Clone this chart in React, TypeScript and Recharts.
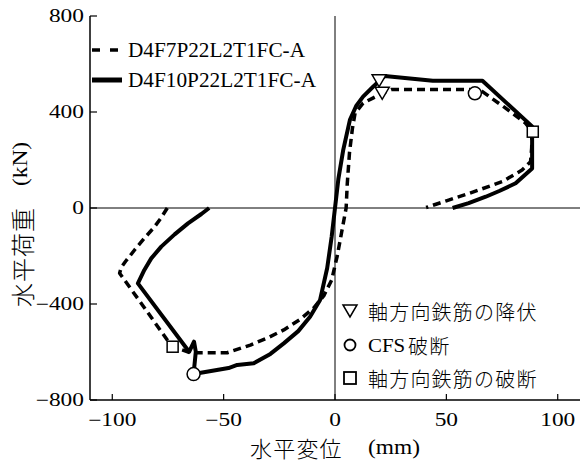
import React from 'react';
import { ComposedChart, Line, Scatter, XAxis, YAxis, ReferenceLine } from 'recharts';

type P = { x: number; y: number };

const xTicks = [-100, -50, 0, 50, 100];
const yTicks = [-800, -400, 0, 400, 800];
const xLabel = '水平変位';
const xUnit = '(mm)';
const yLabel = '水平荷重';
const yUnit = '(kN)';
const seriesNames = ['D4F7P22L2T1FC-A', 'D4F10P22L2T1FC-A'];
const markerNames = ['軸方向鉄筋の降伏', 'CFS', '破断', '軸方向鉄筋の破断'];

// D4F10P22L2T1FC-A (solid) – negative loop, drawn in order
const solidNeg: P[] = [
  { x: -56.5, y: 0 }, { x: -60, y: -25 }, { x: -66, y: -64 }, { x: -72, y: -110 },
  { x: -78, y: -161 }, { x: -82.5, y: -210 }, { x: -85.6, y: -258 }, { x: -88.5, y: -314 },
  { x: -65.5, y: -599 }, { x: -63.3, y: -557 }, { x: -62.5, y: -599 }, { x: -63.5, y: -692 },
  { x: -47.8, y: -667 }, { x: -43.9, y: -654 }, { x: -36.5, y: -647 }, { x: -29, y: -608 },
  { x: -23, y: -564 }, { x: -16.5, y: -513 }, { x: -11.2, y: -453 }, { x: -6.7, y: -383 },
  { x: -3.5, y: -250 }, { x: -1.5, y: -120 }, { x: 0, y: 0 },
];
// D4F10P22L2T1FC-A (solid) – positive loop
const solidPos: P[] = [
  { x: 1.5, y: 120 }, { x: 3.7, y: 242 }, { x: 6.7, y: 367 }, { x: 9.5, y: 425 },
  { x: 12.6, y: 464 }, { x: 17.1, y: 505 }, { x: 20, y: 530 }, { x: 22.3, y: 550 },
  { x: 43.9, y: 530 }, { x: 66.2, y: 530 }, { x: 88.5, y: 340 }, { x: 88.5, y: 165 },
  { x: 81.1, y: 103 }, { x: 74, y: 72 }, { x: 67.7, y: 47 }, { x: 60, y: 20 }, { x: 52.8, y: 0 },
];
// D4F7P22L2T1FC-A (dashed) – negative loop
const dashedNeg: P[] = [
  { x: -75.3, y: 0 }, { x: -78, y: -40 }, { x: -81, y: -78 }, { x: -85.5, y: -125 },
  { x: -90, y: -175 }, { x: -94, y: -222 }, { x: -96, y: -248 }, { x: -96.7, y: -272 },
  { x: -86, y: -410 }, { x: -75.3, y: -550 }, { x: -72.9, y: -578 }, { x: -65, y: -603 },
  { x: -48.4, y: -603 }, { x: -38, y: -571 }, { x: -30, y: -540 }, { x: -23, y: -508 },
  { x: -16, y: -466 }, { x: -9.7, y: -418 }, { x: -5, y: -365 }, { x: -1.5, y: -300 },
  { x: 1, y: -200 }, { x: 3, y: -100 }, { x: 5, y: 0 },
];
// D4F7P22L2T1FC-A (dashed) – positive loop
const dashedPos: P[] = [
  { x: 5.5, y: 100 }, { x: 6.5, y: 230 }, { x: 7.8, y: 330 }, { x: 9, y: 395 },
  { x: 12.6, y: 437 }, { x: 17, y: 458 }, { x: 21.2, y: 478 }, { x: 25.3, y: 494 },
  { x: 40, y: 494 }, { x: 60.3, y: 494 }, { x: 66.2, y: 485 }, { x: 76, y: 420 },
  { x: 85.6, y: 353 }, { x: 88.5, y: 320 }, { x: 88.3, y: 250 }, { x: 87.8, y: 193 },
  { x: 84, y: 158 }, { x: 75.1, y: 110 }, { x: 60.3, y: 61 }, { x: 50, y: 30 }, { x: 40.9, y: 2 },
];

const yieldPts: P[] = [{ x: 19.8, y: 530 }, { x: 21.2, y: 478 }];
const cfsPts: P[] = [{ x: 62.8, y: 478 }, { x: -63.5, y: -692 }];
const rupturePts: P[] = [{ x: 88.8, y: 318 }, { x: -72.9, y: -578 }];

const solidData = [...solidNeg, ...solidPos];
const dashedData = [...dashedNeg, ...dashedPos];

const SERIF = "'Liberation Serif', 'Times New Roman', serif";
const CJK = "'Noto Sans CJK JP', sans-serif";

const fmt = (v: number) => (v < 0 ? '\u2212' + Math.abs(v) : String(v));

const ST = ({ x, y, sx = 1.3, anchor = 'middle', size = 18, family = SERIF, children }: any) => (
  <g transform={`translate(${x},${y}) scale(${sx},1)`}>
    <text x={0} y={0} textAnchor={anchor} dominantBaseline="central" fontSize={size} fontFamily={family} fill="#000">
      {children}
    </text>
  </g>
);

const LeftTick = (props: any) => {
  const { x, y, payload } = props;
  return (
    <g>
      <line x1={x} y1={y} x2={x + 7} y2={y} stroke="#000" strokeWidth={1.2} />
      <ST x={x - 6} y={y} anchor="end">{fmt(payload.value)}</ST>
    </g>
  );
};
const RightTick = (props: any) => {
  const { x, y } = props;
  return <line x1={x} y1={y} x2={x - 7} y2={y} stroke="#000" strokeWidth={1.2} />;
};
const BottomTick = (props: any) => {
  const { x, y, payload } = props;
  return (
    <g>
      <line x1={x} y1={y} x2={x} y2={y - 6} stroke="#000" strokeWidth={1.2} />
      <ST x={x} y={y + 20}>{fmt(payload.value)}</ST>
    </g>
  );
};
const TopTick = (props: any) => {
  const { x, y } = props;
  return <line x1={x} y1={y} x2={x} y2={y + 6} stroke="#000" strokeWidth={1.2} />;
};

const Tri = (props: any) => {
  const { cx, cy } = props;
  return (
    <polygon
      points={`${cx - 7},${cy - 6} ${cx + 7},${cy - 6} ${cx},${cy + 6}`}
      fill="#fff" stroke="#000" strokeWidth={1.5}
    />
  );
};
const Circ = (props: any) => {
  const { cx, cy } = props;
  return <circle cx={cx} cy={cy} r={6.5} fill="#fff" stroke="#000" strokeWidth={1.5} />;
};
const Sq = (props: any) => {
  const { cx, cy } = props;
  return <rect x={cx - 5.5} y={cy - 5.5} width={11} height={11} fill="#fff" stroke="#000" strokeWidth={1.5} />;
};

const cjkStyle = { fontFamily: CJK, fontWeight: 300 as const };

export default function App() {
  return (
    <div style={{ position: 'absolute', left: 0, top: 0, width: 580, height: 464, background: '#fff' }}>
      <ComposedChart width={580} height={464} margin={{ top: 16, right: 0, bottom: 0, left: 0 }}>
        <XAxis
          type="number" dataKey="x" domain={[-110, 110]} ticks={xTicks} interval={0}
          allowDataOverflow height={64} tickSize={0} tickMargin={0} tickLine={false}
          axisLine={{ stroke: '#000', strokeWidth: 1.5 }} tick={<BottomTick />}
        />
        <XAxis
          xAxisId="top" orientation="top" type="number" dataKey="x" domain={[-110, 110]} ticks={xTicks}
          interval={0} allowDataOverflow height={0} tickSize={0} tickMargin={0} tickLine={false}
          axisLine={{ stroke: '#000', strokeWidth: 1.5 }} tick={<TopTick />}
        />
        <YAxis
          type="number" domain={[-800, 800]} ticks={yTicks} interval={0} allowDataOverflow width={90}
          tickSize={0} tickMargin={0} tickLine={false}
          axisLine={{ stroke: '#000', strokeWidth: 1.5 }} tick={<LeftTick />}
        />
        <YAxis
          yAxisId="right" orientation="right" type="number" domain={[-800, 800]} ticks={yTicks}
          interval={0} allowDataOverflow width={0} tickSize={0} tickMargin={0} tickLine={false}
          axisLine={{ stroke: '#000', strokeWidth: 1.5 }} tick={<RightTick />}
        />
        <ReferenceLine y={0} stroke="#000" strokeWidth={1} />
        <ReferenceLine x={0} stroke="#000" strokeWidth={1} />
        <Line
          data={dashedData} dataKey="y" type="linear" stroke="#000" strokeWidth={3.5}
          strokeDasharray="8 5" dot={false} activeDot={false} isAnimationActive={false}
          strokeLinejoin="round" name={seriesNames[0]}
        />
        <Line
          data={solidData} dataKey="y" type="linear" stroke="#000" strokeWidth={4}
          dot={false} activeDot={false} isAnimationActive={false}
          strokeLinejoin="round" name={seriesNames[1]}
        />
        <Scatter data={yieldPts} dataKey="y" shape={<Tri />} isAnimationActive={false} />
        <Scatter data={cfsPts} dataKey="y" shape={<Circ />} isAnimationActive={false} />
        <Scatter data={rupturePts} dataKey="y" shape={<Sq />} isAnimationActive={false} />
      </ComposedChart>
      <svg width={580} height={464} style={{ position: 'absolute', left: 0, top: 0, pointerEvents: 'none' }}>
        {/* series legend */}
        <line x1={92} y1={50} x2={120} y2={50} stroke="#000" strokeWidth={3.5} strokeDasharray="8 10" />
        <text x={128} y={50} dominantBaseline="central" fontSize={21} fontFamily={SERIF} textLength={177} lengthAdjust="spacingAndGlyphs">{seriesNames[0]}</text>
        <line x1={92} y1={80} x2={122} y2={80} stroke="#000" strokeWidth={5} />
        <text x={128} y={80} dominantBaseline="central" fontSize={21} fontFamily={SERIF} textLength={188} lengthAdjust="spacingAndGlyphs">{seriesNames[1]}</text>
        {/* marker legend */}
        <Tri cx={350} cy={311} />
        <text x={368} y={311} dominantBaseline="central" fontSize={20} letterSpacing={1.2} {...cjkStyle}>{markerNames[0]}</text>
        <circle cx={350} cy={345} r={5.5} fill="#fff" stroke="#000" strokeWidth={1.8} />
        <ST x={368} y={345} anchor="start" size={19} sx={1.1}>{markerNames[1]}</ST>
        <text x={408} y={345} dominantBaseline="central" fontSize={20} letterSpacing={1.2} {...cjkStyle}>{markerNames[2]}</text>
        <rect x={344} y={372} width={12} height={12} fill="#fff" stroke="#000" strokeWidth={1.8} />
        <text x={368} y={378} dominantBaseline="central" fontSize={20} letterSpacing={1.2} {...cjkStyle}>{markerNames[3]}</text>
        {/* x axis label */}
        <text x={250} y={447} dominantBaseline="central" fontSize={22} letterSpacing={1.2} {...cjkStyle}>{xLabel}</text>
        <ST x={394} y={448} size={20} sx={1.17}>{xUnit}</ST>
        {/* y axis label */}
        <g transform="rotate(-90)">
          <text x={-307} y={21} dominantBaseline="central" fontSize={24} letterSpacing={1} {...cjkStyle}>{yLabel}</text>
          <ST x={-164} y={21} size={20} sx={1.17}>{yUnit}</ST>
        </g>
      </svg>
    </div>
  );
}
